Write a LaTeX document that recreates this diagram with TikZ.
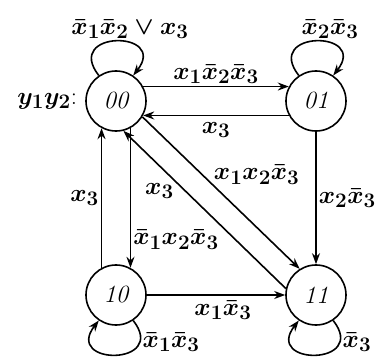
\documentclass[tikz,border=0pt]{standalone}
\usepackage{tikz}
\usetikzlibrary{arrows.meta,positioning}
\tikzset{
  etat/.style={circle, draw, line width=1.6bp, minimum size=60bp, inner sep=0pt, font=\Huge\itshape},
  fleche/.style={line width=1.6bp, -{Stealth[length=11bp,width=8bp]}},
  boucle/.style={fleche, looseness=4.3},
  etiq/.style={font=\Huge\boldmath, inner sep=2bp}
}

\begin{document}
\begin{tikzpicture}[x=1bp,y=1bp]
  \useasboundingbox (0,0) rectangle (385,360);
  \def\xg{116}
  \def\xd{316}
  \def\yh{259}
  \def\yb{65}

  % états
  \node[etat] (s00) at (\xg,\yh) {00};
  \node[etat] (s01) at (\xd,\yh) {01};
  \node[etat] (s10) at (\xg,\yb) {10};
  \node[etat] (s11) at (\xd,\yb) {11};
  \node[etiq, left=6bp of s00] (code) {$y_1y_2$:};

  % boucles
  \draw[boucle] (s00.124) to[out=128,in=52] node[etiq,above,xshift=14bp] {$\bar{x}_1\bar{x}_2\vee x_3$} (s00.56);
  \draw[boucle] (s01.124) to[out=128,in=52] node[etiq,above,xshift=14bp] {$\bar{x}_2\bar{x}_3$} (s01.56);
  \draw[boucle] (s10.-56) to[out=-52,in=-128] node[etiq,pos=0.2,anchor=west] {$\bar{x}_1\bar{x}_3$} (s10.-124);
  \draw[boucle] (s11.-56) to[out=-52,in=-128] node[etiq,pos=0.2,anchor=west] {$\bar{x}_3$} (s11.-124);

  % transitions
  \draw[fleche] (s00.28) -- node[etiq,above] {$x_1\bar{x}_2\bar{x}_3$} (s01.152);
  \draw[fleche] (s01.208) -- node[etiq,below=4bp] {$x_3$} (s00.-28);
  \draw[fleche] (s00.-62) -- node[etiq,right,pos=0.8] {$\bar{x}_1x_2\bar{x}_3$} (s10.62);
  \draw[fleche] (s10.118) -- node[etiq,left] {$x_3$} (s00.-118);
  \draw[fleche] (s00.-31) -- node[etiq,pos=0.45,above right,inner sep=0bp] {$x_1x_2\bar{x}_3$} (s11.122);
  \draw[fleche] (s11.168) -- node[etiq,pos=0.68,below left,inner sep=1bp] {$x_3$} (s00.-76);
  \draw[fleche] (s01) -- node[etiq,right] {$x_2\bar{x}_3$} (s11);
  \draw[fleche] (s10) -- node[etiq,below=3bp,pos=0.55] {$x_1\bar{x}_3$} (s11);
\end{tikzpicture}
\end{document}
